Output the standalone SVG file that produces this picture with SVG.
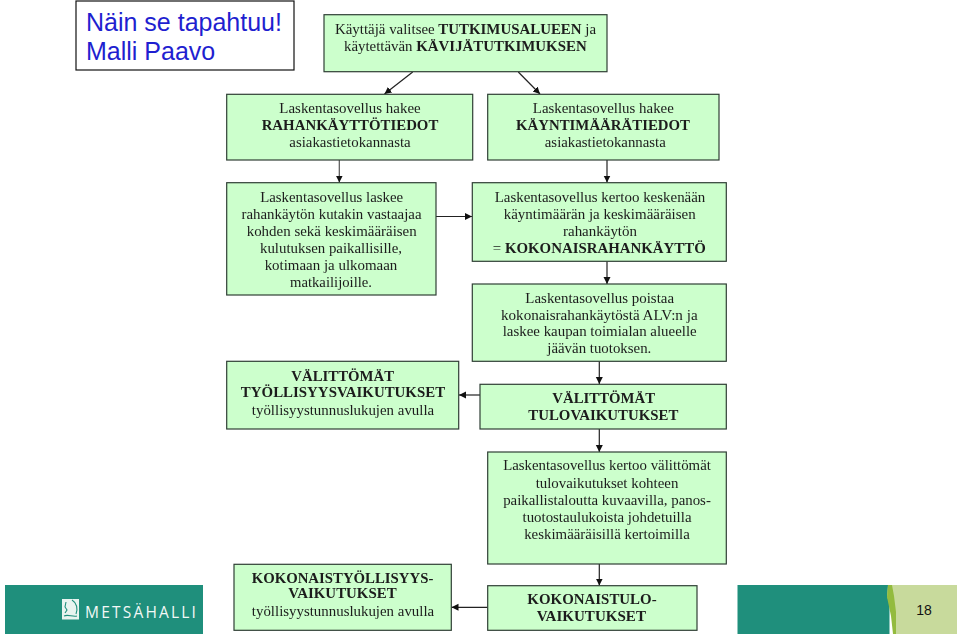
<svg xmlns="http://www.w3.org/2000/svg" width="960" height="638" viewBox="0 0 960 638">
<style>
.b{fill:#ccffcc;stroke:#2f3f35;stroke-width:1.2}
.t text{font-family:"Liberation Serif","Times New Roman",serif;font-size:15px;fill:#1c1c1c;text-anchor:middle}
.t{filter:url(#soft)}
.h{font-weight:bold}
.c{fill:none;stroke:#222;stroke-width:1.2;marker-end:url(#a)}
.title{font-family:"Liberation Sans",Arial,sans-serif;font-size:25px;fill:#1f1fd0}
</style>
<defs>
<filter id="soft" x="-5%" y="-5%" width="110%" height="110%"><feGaussianBlur stdDeviation="0.3"/></filter>
<marker id="a" markerUnits="userSpaceOnUse" markerWidth="8" markerHeight="8" refX="7" refY="3.5" orient="auto"><path d="M0 0L7 3.5L0 7z" fill="#111"/></marker>
<clipPath id="cl"><rect x="227" y="95" width="492" height="52"/></clipPath>
</defs>
<rect width="960" height="638" fill="#fff"/>

<g id="title">
<rect x="76" y="1" width="218" height="69" fill="#fff" stroke="#111" stroke-width="1.2"/>
<text class="title" x="86" y="31">Näin se tapahtuu!</text>
<text class="title" x="86" y="60">Malli Paavo</text>
</g>

<g id="footer">
<rect x="5" y="585" width="198" height="49" fill="#1f8f7c"/>
<rect x="737.5" y="585" width="152" height="49" fill="#1f8f7c"/>
<path d="M888 585H957V634H896L892 612L887 596z" fill="#c8da9c"/>
<path d="M888 585H892L894 596L896 612L896 634H893L891 616L887 597z" fill="#93bb3e"/>
<path d="M62 599h17v20.500h-17z" fill="#e8f4f0"/>
<path d="M66 602l-1 5l2 3l-2 3M72 600c5 3 6 9 4 14M64 616c4-2 8 1 13 0" fill="none" stroke="#1f8f7c" stroke-width="1.1"/>
<text x="85" y="618" font-family="Open Sans,Liberation Sans,sans-serif" font-size="15.500" letter-spacing="2.200" fill="#f2f8f6">METSÄHALLI</text>
<text x="924" y="615" font-family="Liberation Sans,Arial,sans-serif" font-size="14" fill="#111" text-anchor="middle">18</text>
</g>

<g id="connectors">
<path class="c" d="M412.700 72L384.500 94"/>
<path class="c" d="M518.300 72L540 94"/>
<path class="c" style="stroke:#555" d="M339.300 160V182.500"/>
<path class="c" d="M607 160V182.500"/>
<path class="c" d="M436 216.500H472"/>
<path class="c" d="M607 261.300V284"/>
<path class="c" d="M599.300 361.300V384"/>
<path class="c" d="M480 395H459"/>
<path class="c" d="M599.300 429V452"/>
<path class="c" d="M599.300 564V585.500"/>
<path class="c" d="M487.700 607.300H451.500"/>
</g>

<g id="n1"><rect class="b" x="324" y="14.700" width="283" height="57"/>
<g class="t"><text x="465.500" y="34" textLength="261" lengthAdjust="spacingAndGlyphs">Käyttäjä valitsee <tspan class="h">TUTKIMUSALUEEN</tspan> ja</text>
<text x="465.300" y="51" textLength="242.700" lengthAdjust="spacingAndGlyphs">käytettävän <tspan class="h">KÄVIJÄTUTKIMUKSEN</tspan></text></g></g>

<g id="n2"><rect class="b" x="226.700" y="94.300" width="246" height="65.700"/>
<g class="t"><text x="350" y="112.700" textLength="141.300" lengthAdjust="spacingAndGlyphs">Laskentasovellus hakee</text>
<text class="h" x="350" y="130" textLength="176.700" lengthAdjust="spacingAndGlyphs">RAHANKÄYTTÖTIEDOT</text>
<text x="350" y="146.700" textLength="121.300" lengthAdjust="spacingAndGlyphs" clip-path="url(#cl)">asiakastietokannasta</text></g></g>

<g id="n3"><rect class="b" x="487.700" y="94.300" width="231.300" height="65.700"/>
<g class="t"><text x="603.300" y="112.700" textLength="141" lengthAdjust="spacingAndGlyphs">Laskentasovellus hakee</text>
<text class="h" x="603" y="130" textLength="174" lengthAdjust="spacingAndGlyphs">KÄYNTIMÄÄRÄTIEDOT</text>
<text x="605.300" y="146.700" textLength="121" lengthAdjust="spacingAndGlyphs" clip-path="url(#cl)">asiakastietokannasta</text></g></g>

<g id="n4"><rect class="b" x="226.700" y="182.700" width="209.300" height="112.300"/>
<g class="t"><text x="331.700" y="201.700" textLength="143" lengthAdjust="spacingAndGlyphs">Laskentasovellus laskee</text>
<text x="331.500" y="219" textLength="180" lengthAdjust="spacingAndGlyphs">rahankäytön kutakin vastaajaa</text>
<text x="331.700" y="235.700" textLength="170" lengthAdjust="spacingAndGlyphs">kohden sekä keskimääräisen</text>
<text x="331" y="253" textLength="142" lengthAdjust="spacingAndGlyphs">kulutuksen paikallisille,</text>
<text x="331" y="270" textLength="132.700" lengthAdjust="spacingAndGlyphs">kotimaan ja ulkomaan</text>
<text x="331" y="287" textLength="82" lengthAdjust="spacingAndGlyphs">matkailijoille.</text></g></g>

<g id="n5"><rect class="b" x="472.300" y="182.700" width="254" height="78.600"/>
<g class="t"><text x="600" y="201.700" textLength="210.700" lengthAdjust="spacingAndGlyphs">Laskentasovellus kertoo keskenään</text>
<text x="599.700" y="219" textLength="192" lengthAdjust="spacingAndGlyphs">käyntimäärän ja keskimääräisen</text>
<text x="600" y="235.700" textLength="74" lengthAdjust="spacingAndGlyphs">rahankäytön</text>
<text x="599.300" y="252.500" textLength="213" lengthAdjust="spacingAndGlyphs">= <tspan class="h">KOKONAISRAHANKÄYTTÖ</tspan></text></g></g>

<g id="n6"><rect class="b" x="472.300" y="284" width="254" height="77.300"/>
<g class="t"><text x="599.700" y="303.300" textLength="148.700" lengthAdjust="spacingAndGlyphs">Laskentasovellus poistaa</text>
<text x="599.300" y="319.700" textLength="196.700" lengthAdjust="spacingAndGlyphs">kokonaisrahankäytöstä ALV:n ja</text>
<text x="599.700" y="336" textLength="194" lengthAdjust="spacingAndGlyphs">laskee kaupan toimialan alueelle</text>
<text x="599.300" y="353.300" textLength="104" lengthAdjust="spacingAndGlyphs">jäävän tuotoksen.</text></g></g>

<g id="n7"><rect class="b" x="226.700" y="361.300" width="232" height="67.700"/>
<g class="t"><text class="h" x="342.700" y="380.700" textLength="102.700" lengthAdjust="spacingAndGlyphs">VÄLITTÖMÄT</text>
<text class="h" x="343" y="397.300" textLength="204.300" lengthAdjust="spacingAndGlyphs">TYÖLLISYYSVAIKUTUKSET</text>
<text x="343" y="415" textLength="182.300" lengthAdjust="spacingAndGlyphs">työllisyystunnuslukujen avulla</text></g></g>

<g id="n8"><rect class="b" x="480" y="384.300" width="246.300" height="44.700"/>
<g class="t"><text class="h" x="603.700" y="403.300" textLength="102.700" lengthAdjust="spacingAndGlyphs">VÄLITTÖMÄT</text>
<text class="h" x="603.300" y="420" textLength="150" lengthAdjust="spacingAndGlyphs">TULOVAIKUTUKSET</text></g></g>

<g id="n9"><rect class="b" x="487.700" y="452" width="238.600" height="112"/>
<g class="t"><text x="607" y="470" textLength="207.700" lengthAdjust="spacingAndGlyphs">Laskentasovellus kertoo välittömät</text>
<text x="607" y="487.700" textLength="142.700" lengthAdjust="spacingAndGlyphs">tulovaikutukset kohteen</text>
<text x="607" y="505" textLength="207.700" lengthAdjust="spacingAndGlyphs">paikallistaloutta kuvaavilla, panos-</text>
<text x="607" y="522.300" textLength="169" lengthAdjust="spacingAndGlyphs">tuotostaulukoista johdetuilla</text>
<text x="607" y="539.300" textLength="165.700" lengthAdjust="spacingAndGlyphs">keskimääräisillä kertoimilla</text></g></g>

<g id="n10"><rect class="b" x="234" y="564.300" width="217.300" height="66"/>
<g class="t"><text class="h" x="342.500" y="582.700" textLength="181.700" lengthAdjust="spacingAndGlyphs">KOKONAISTYÖLLISYYS-</text>
<text class="h" x="342.500" y="598.300" textLength="108.300" lengthAdjust="spacingAndGlyphs">VAIKUTUKSET</text>
<text x="343" y="616" textLength="182.300" lengthAdjust="spacingAndGlyphs">työllisyystunnuslukujen avulla</text></g></g>

<g id="n11"><rect class="b" x="487.700" y="585.700" width="209.300" height="44.600"/>
<g class="t"><text class="h" x="592" y="604" textLength="129.300" lengthAdjust="spacingAndGlyphs">KOKONAISTULO-</text>
<text class="h" x="591.300" y="620.700" textLength="109.300" lengthAdjust="spacingAndGlyphs">VAIKUTUKSET</text></g></g>
</svg>
